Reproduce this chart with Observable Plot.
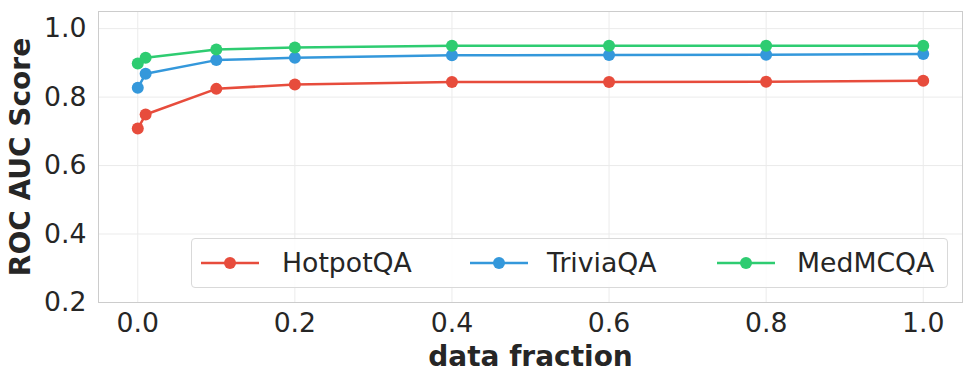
<!DOCTYPE html>
<html>
<head>
<meta charset="utf-8">
<script src="https://cdn.jsdelivr.net/npm/d3@7"></script>
<script src="https://cdn.jsdelivr.net/npm/@observablehq/plot@0.6"></script>
<style>
  html, body { margin: 0; padding: 0; background: #fff; }
  #wrap { position: relative; width: 972px; height: 383px; font-family: "DejaVu Sans", sans-serif; }
  #legend { position: absolute; left: 191px; top: 238px; width: 757px; height: 50px; box-sizing: border-box;
    border: 1px solid #d9d9d9; border-radius: 4px; background: rgba(255,255,255,0.85);
    font-size: 26.7px; color: #262626; }
  .sw { position: absolute; top: 14px; }
  .lab { position: absolute; top: 0; line-height: 48px; white-space: nowrap; }
</style>
</head>
<body>
<div id="wrap"></div>
<script>
const fractions = [0, 0.01, 0.1, 0.2, 0.4, 0.6, 0.8, 1.0];
const seriesNames = ["HotpotQA", "TriviaQA", "MedMCQA"];
const seriesColors = ["#e74c3c", "#3498db", "#2ecc71"];
const hotpotQA = [0.708, 0.749, 0.824, 0.837, 0.844, 0.844, 0.845, 0.848];
const triviaQA = [0.827, 0.868, 0.908, 0.915, 0.922, 0.923, 0.924, 0.926];
const medMCQA  = [0.898, 0.915, 0.939, 0.945, 0.950, 0.950, 0.950, 0.950];
const xTicks = [0.0, 0.2, 0.4, 0.6, 0.8, 1.0];
const yTicks = [0.2, 0.4, 0.6, 0.8, 1.0];

const allValues = [hotpotQA, triviaQA, medMCQA];
const data = [];
seriesNames.forEach((name, i) => fractions.forEach((f, j) => data.push({series: name, x: f, y: allValues[i][j]})));

const chart = Plot.plot({
  width: 972,
  height: 383,
  marginLeft: 98,
  marginRight: 10,
  marginTop: 11,
  marginBottom: 81,
  style: {fontFamily: "DejaVu Sans, sans-serif", fontSize: "26.7px", color: "#262626", background: "#fff"},
  x: {domain: [-0.05, 1.05]},
  y: {domain: [0.2, 1.05]},
  color: {domain: seriesNames, range: seriesColors},
  marks: [
    Plot.gridX(xTicks, {stroke: "#ebebeb", strokeOpacity: 1}),
    Plot.gridY(yTicks, {stroke: "#ebebeb", strokeOpacity: 1}),
    Plot.frame({stroke: "#cccccc"}),
    Plot.axisX(xTicks, {tickSize: 0, tickPadding: 11, tickFormat: d3.format(".1f"), label: null, fontSize: 26.7}),
    Plot.axisY(yTicks, {tickSize: 0, tickPadding: 12, tickFormat: d3.format(".1f"), label: null, fontSize: 26.7}),
    Plot.line(data, {x: "x", y: "y", z: "series", stroke: "series", strokeWidth: 2.5}),
    Plot.dot(data, {x: "x", y: "y", fill: "series", r: 6}),
    Plot.text(["ROC AUC Score"], {frameAnchor: "left", dx: -77, rotate: -90, textAnchor: "middle", fontWeight: "bold", fontSize: 28, fill: "#262626"}),
    Plot.text(["data fraction"], {frameAnchor: "bottom", dy: 63, fontWeight: "bold", fontSize: 28, fill: "#262626"})
  ]
});
const wrap = document.getElementById("wrap");
wrap.appendChild(chart);

const legend = document.createElement("div");
legend.id = "legend";
const lineLefts = [8, 277, 524];
const textLefts = [90, 355, 605];
seriesNames.forEach((name, i) => {
  const sw = document.createElement("div");
  sw.className = "sw";
  sw.style.left = lineLefts[i] + "px";
  sw.innerHTML = `<svg width="60" height="20" style="display:block"><line x1="1" x2="59" y1="10" y2="10" stroke="${seriesColors[i]}" stroke-width="2.5"/><circle cx="30" cy="10" r="6" fill="${seriesColors[i]}"/></svg>`;
  const lab = document.createElement("span");
  lab.className = "lab";
  lab.style.left = textLefts[i] + "px";
  lab.textContent = name;
  legend.appendChild(sw);
  legend.appendChild(lab);
});
wrap.appendChild(legend);
</script>
</body>
</html>
